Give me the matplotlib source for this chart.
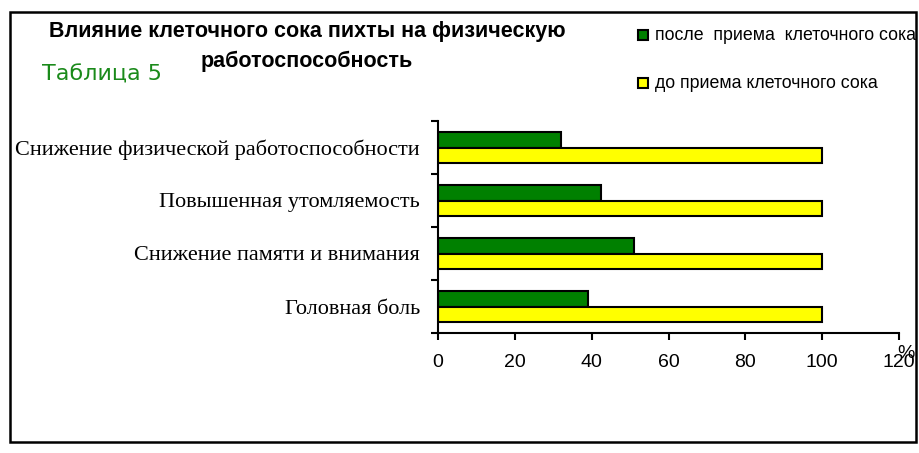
import matplotlib
matplotlib.use('Agg')
import matplotlib.pyplot as plt
from matplotlib.patches import Rectangle

categories = ['Головная боль', 'Снижение памяти и внимания',
              'Повышенная утомляемость', 'Снижение физической работоспособности']
after_vals = [39, 51, 42.5, 32]
before_vals = [100, 100, 100, 100]
after_label = 'после  приема  клеточного сока'
before_label = 'до приема клеточного сока'
x_ticks = [0, 20, 40, 60, 80, 100, 120]

W, H = 920, 453
fig = plt.figure(figsize=(W / 100, H / 100), dpi=100)

# outer frame
frame = Rectangle((10 / W, 1 - 442 / H), 906 / W, 430 / H, transform=fig.transFigure,
                  fill=False, edgecolor='black', linewidth=1.8)
fig.patches.append(frame)

ax = fig.add_axes([438 / W, 1 - 333 / H, (899 - 438) / W, (333 - 121) / H])
y = list(range(len(categories)))
h = 0.29
ax.barh([v + 0.14 for v in y], after_vals, height=h, color='#008000', edgecolor='black', linewidth=1.5)
ax.barh([v - 0.15 for v in y], before_vals, height=h, color='#FFFF00', edgecolor='black', linewidth=1.5)

ax.set_xlim(0, 120)
ax.set_ylim(-0.5, 3.5)
for s in ['top', 'right']:
    ax.spines[s].set_visible(False)
for s in ['left', 'bottom']:
    ax.spines[s].set_linewidth(1.5)

ax.set_xticks(x_ticks)
ax.set_xticklabels([str(t) for t in x_ticks], fontsize=14, family='Liberation Sans')
ax.tick_params(axis='x', direction='out', length=5, width=1.5, pad=10)

ax.set_yticks([v - 0.5 for v in y] + [3.5])
ax.set_yticklabels([])
ax.set_yticks(y, minor=True)
ax.set_yticklabels(categories, minor=True, fontsize=16.0, family='Liberation Serif')
ax.tick_params(axis='y', which='major', direction='out', length=5, width=1.5)
ax.tick_params(axis='y', which='minor', length=0, pad=13)

fig.text(906 / W, 1 - 354 / H, '%', fontsize=14, family='Liberation Sans', ha='center', va='center')

# title
fig.text(307 / W, 1 - 32 / H, 'Влияние клеточного сока пихты на физическую', fontsize=15.5,
         fontweight='bold', family='Liberation Sans', ha='center', va='center')
fig.text(307 / W, 1 - 61 / H, 'работоспособность', fontsize=15.5,
         fontweight='bold', family='Liberation Sans', ha='center', va='center')
fig.text(42 / W, 1 - 75 / H, 'Таблица 5', fontsize=16, color='#1a8a1a',
         family='DejaVu Sans', ha='left', va='center')

# legend, drawn by hand so the long label is clipped by the frame
for yy, col, lab in [(35, '#008000', after_label), (83, '#FFFF00', before_label)]:
    sq = Rectangle((638 / W, 1 - (yy + 5) / H), 10 / W, 10 / H, transform=fig.transFigure,
                   facecolor=col, edgecolor='black', linewidth=1.5)
    fig.patches.append(sq)
    t = fig.text(655 / W, 1 - yy / H, lab, fontsize=12.8, family='Liberation Sans',
                 ha='left', va='center')
    t.set_clip_path(frame)

fig.savefig('out.png', dpi=100)
